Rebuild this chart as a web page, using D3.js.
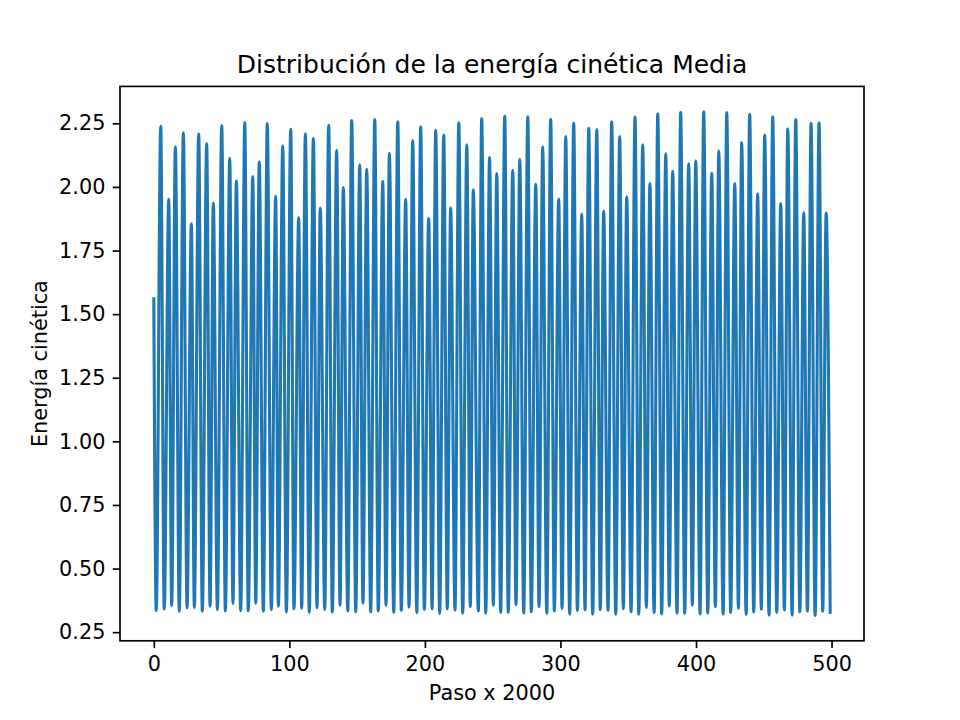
<!DOCTYPE html>
<html lang="es">
<head>
<meta charset="utf-8">
<title>Distribución de la energía cinética Media</title>
<script src="https://cdn.jsdelivr.net/npm/d3@7/dist/d3.min.js"></script>
<style>
  body { margin: 0; background: #fff; }
  text { font-family: "DejaVu Sans", sans-serif; fill: #000; }
</style>
</head>
<body>
<script>
// values (step = paso, value = energia)
var startPoint = [0, 1.56];
var endPoint = [499, 0.328];

var peakStep = [5.1, 11.0, 15.9, 21.8, 27.7, 33.1, 39.0, 43.9, 50.1, 56.0,
  60.9, 67.1, 73.0, 77.8, 83.7, 89.9, 95.1, 101.0, 106.9, 111.8,
  117.7, 122.8, 129.0, 134.9, 139.8, 146.0, 151.9, 157.1, 163.0, 168.9,
  173.8, 180.0, 185.8, 191.0, 196.9, 202.8, 208.0, 213.9, 219.0, 225.0,
  230.9, 235.7, 241.9, 247.7, 253.0, 258.9, 264.8, 270.0, 275.9, 281.8,
  286.9, 292.8, 298.7, 303.9, 309.8, 315.7, 320.9, 326.8, 331.9, 337.8,
  343.7, 348.9, 355.0, 360.7, 366.0, 371.8, 377.7, 382.8, 388.7, 394.6,
  399.8, 405.7, 411.6, 416.8, 422.7, 428.6, 433.7, 439.6, 445.5, 450.7,
  456.6, 462.5, 467.7, 473.6, 479.5, 484.9, 490.8, 496.0];

var peakValue = [2.238, 1.951, 2.158, 2.213, 1.855, 2.208, 2.170, 1.937, 2.241, 2.112,
  2.024, 2.253, 2.041, 2.099, 2.249, 1.963, 2.162, 2.226, 1.879, 2.209,
  2.191, 1.917, 2.242, 2.144, 1.997, 2.261, 2.087, 2.069, 2.265, 2.022,
  2.132, 2.256, 1.951, 2.182, 2.236, 1.876, 2.222, 2.204, 1.918, 2.252,
  2.165, 1.989, 2.269, 2.116, 2.052, 2.278, 2.065, 2.108, 2.276, 2.010,
  2.157, 2.266, 1.952, 2.198, 2.250, 1.892, 2.230, 2.225, 1.904, 2.256,
  2.198, 1.961, 2.275, 2.165, 2.013, 2.287, 2.130, 2.061, 2.293, 2.091,
  2.103, 2.295, 2.053, 2.141, 2.292, 2.013, 2.174, 2.285, 1.973, 2.204,
  2.276, 1.935, 2.228, 2.265, 1.898, 2.250, 2.252, 1.897];

var troughStep = [1.8, 7.7, 13.2, 18.8, 24.5, 29.9, 35.8, 41.5, 46.9, 52.8,
  58.4, 64.1, 69.7, 75.2, 80.8, 86.7, 91.9, 97.8, 103.4, 109.1,
  114.7, 120.4, 126.1, 131.7, 137.4, 143.1, 149.0, 154.3, 160.0, 165.6,
  171.3, 177.0, 182.6, 188.3, 194.0, 199.6, 205.3, 210.9, 216.5, 222.2,
  227.9, 233.5, 239.4, 244.9, 250.5, 255.9, 261.5, 267.2, 272.9, 278.5,
  284.2, 289.9, 295.5, 301.2, 306.8, 312.5, 318.1, 323.8, 329.4, 335.1,
  340.8, 346.4, 352.1, 357.8, 363.4, 369.1, 374.7, 380.3, 386.0, 391.7,
  397.3, 403.0, 408.7, 414.3, 420.0, 425.6, 431.3, 437.0, 442.6, 448.2,
  453.9, 459.6, 465.2, 470.9, 476.6, 482.2, 487.9, 493.5];

var troughValue = [0.335, 0.341, 0.355, 0.332, 0.346, 0.347, 0.332, 0.352, 0.339, 0.333,
  0.363, 0.334, 0.334, 0.364, 0.332, 0.338, 0.352, 0.329, 0.342, 0.344,
  0.328, 0.346, 0.339, 0.329, 0.356, 0.333, 0.330, 0.364, 0.330, 0.333,
  0.356, 0.328, 0.335, 0.348, 0.327, 0.339, 0.342, 0.324, 0.342, 0.337,
  0.325, 0.350, 0.333, 0.325, 0.356, 0.328, 0.328, 0.358, 0.325, 0.330,
  0.350, 0.324, 0.333, 0.343, 0.321, 0.335, 0.338, 0.321, 0.338, 0.335,
  0.321, 0.342, 0.330, 0.321, 0.347, 0.327, 0.322, 0.353, 0.325, 0.324,
  0.356, 0.322, 0.325, 0.350, 0.321, 0.327, 0.344, 0.320, 0.329, 0.340,
  0.317, 0.328, 0.337, 0.317, 0.330, 0.333, 0.315, 0.332];

var xTicks = [0, 100, 200, 300, 400, 500];
var yTicks = [0.25, 0.50, 0.75, 1.00, 1.25, 1.50, 1.75, 2.00, 2.25];

var titleText = "Distribución de la energía cinética Media";
var xLabel = "Paso x 2000";
var yLabel = "Energía cinética";

// build the series: start, trough, peak, trough, peak ... end
var series = [startPoint];
for (var i = 0; i < troughStep.length; i++) {
  series.push([troughStep[i], troughValue[i]]);
  series.push([peakStep[i], peakValue[i]]);
}
series.push(endPoint);

//Width and height
var w = 960, h = 720;
var axLeft = 120, axRight = 864, axTop = 86.4, axBottom = 640.8;

var svg = d3.select("body").append("svg")
  .attr("width", w)
  .attr("height", h);

svg.append("rect").attr("width", w).attr("height", h).attr("fill", "#fff");

var x = d3.scaleLinear().domain([-24.95, 523.95]).range([axLeft, axRight]);
var y = d3.scaleLinear().domain([0.2161, 2.3950]).range([axBottom, axTop]);

var line = d3.line()
  .x(function(d) { return x(d[0]); })
  .y(function(d) { return y(d[1]); })
  .curve(d3.curveMonotoneX);

svg.append("defs").append("clipPath").attr("id", "clip")
  .append("rect").attr("x", axLeft).attr("y", axTop)
  .attr("width", axRight - axLeft).attr("height", axBottom - axTop);

svg.append("path")
  .datum(series)
  .attr("clip-path", "url(#clip)")
  .attr("d", line)
  .attr("fill", "none")
  .attr("stroke", "#1f77b4")
  .attr("stroke-width", 3.1)
  .attr("stroke-linejoin", "round")
  .attr("stroke-linecap", "square");

// axes
var xAxis = d3.axisBottom(x).tickValues(xTicks).tickSize(7.3).tickPadding(7.3)
  .tickFormat(d3.format("d"));
var yAxis = d3.axisLeft(y).tickValues(yTicks).tickSize(7.3).tickPadding(7.3)
  .tickFormat(d3.format(".2f"));

var gx = svg.append("g").attr("transform", "translate(0," + axBottom + ")").call(xAxis);
var gy = svg.append("g").attr("transform", "translate(" + axLeft + ",0)").call(yAxis);

[gx, gy].forEach(function(g) {
  g.select(".domain").remove();
  g.selectAll(".tick line").attr("stroke", "#000").attr("stroke-width", 1.67);
  g.selectAll(".tick text").attr("font-size", 20.8).attr("fill", "#000")
    .style("font-family", "DejaVu Sans");
});
gx.selectAll(".tick text").attr("dy", "0.76em");

// frame
svg.append("rect")
  .attr("x", axLeft).attr("y", axTop)
  .attr("width", axRight - axLeft).attr("height", axBottom - axTop)
  .attr("fill", "none").attr("stroke", "#000").attr("stroke-width", 1.67);

svg.append("text")
  .attr("x", (axLeft + axRight) / 2).attr("y", 72.5)
  .attr("text-anchor", "middle").attr("font-size", 25)
  .text(titleText);

svg.append("text")
  .attr("x", (axLeft + axRight) / 2).attr("y", 700)
  .attr("text-anchor", "middle").attr("font-size", 20.8)
  .text(xLabel);

svg.append("text")
  .attr("transform", "translate(47," + (axTop + axBottom) / 2 + ") rotate(-90)")
  .attr("text-anchor", "middle").attr("font-size", 20.8)
  .text(yLabel);
</script>
</body>
</html>
